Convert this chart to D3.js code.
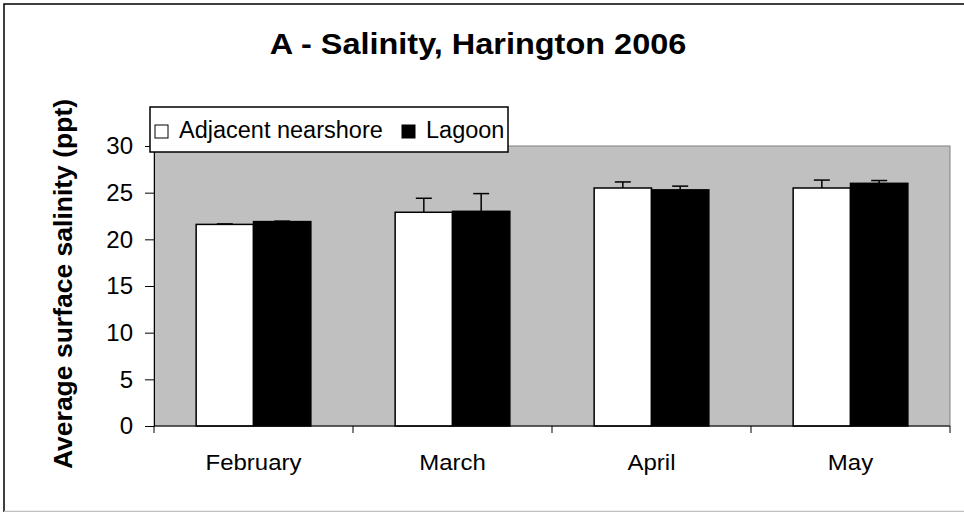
<!DOCTYPE html>
<html>
<head>
<meta charset="utf-8">
<script src="https://cdn.jsdelivr.net/npm/d3@7"></script>
<style>
body { margin: 0; background: #fff; }
svg { display: block; font-family: "Liberation Sans", Arial, sans-serif; }
</style>
</head>
<body>
<div id="vis"></div>
<script>
var months = ["February", "March", "April", "May"];
var seriesNames = ["Adjacent nearshore", "Lagoon"];
var nearshore = [21.6, 22.9, 25.5, 25.5];
var lagoon = [21.9, 23.0, 25.3, 26.0];
var nearshoreErr = [0.05, 1.5, 0.65, 0.85];
var lagoonErr = [0.05, 1.9, 0.4, 0.3];
var yTicks = [0, 5, 10, 15, 20, 25, 30];

var width = 964;
var height = 512;
var plot = { left: 154, right: 950, top: 146, bottom: 426 };
var fills = ["#ffffff", "#000000"];
var fontFamily = "Liberation Sans, Arial, sans-serif";

var svgElement = d3.select('#vis').append('svg')
    .attr('width', width)
    .attr('height', height);

// outer chart border (cut off at right/bottom like the picture)
svgElement.append('rect')
    .attr('x', 4).attr('y', 4)
    .attr('width', width + 10).attr('height', 520)
    .attr('fill', 'none').attr('stroke', '#000').attr('stroke-width', 1.5);
svgElement.append('line')
    .attr('x1', 4).attr('x2', width).attr('y1', 511.5).attr('y2', 511.5)
    .attr('stroke', '#c0c0c0').attr('stroke-width', 1.5);

var x = d3.scaleBand().domain(months).range([plot.left, plot.right]);
var xInner = d3.scaleBand().domain([0, 1]).range([0, x.bandwidth()]).paddingOuter(0.735);
var y = d3.scaleLinear().domain([0, 30]).range([plot.bottom, plot.top]);

// plot area
svgElement.append('rect')
    .attr('x', plot.left).attr('y', plot.top)
    .attr('width', plot.right - plot.left).attr('height', plot.bottom - plot.top)
    .attr('fill', '#c0c0c0').attr('stroke', '#808080').attr('stroke-width', 1);

var series = [
    { vals: nearshore, errs: nearshoreErr },
    { vals: lagoon, errs: lagoonErr }
];

series.forEach(function (s, si) {
    var g = svgElement.append('g');
    g.selectAll('rect').data(months).enter().append('rect')
        .attr('x', function (m) { return x(m) + xInner(si); })
        .attr('y', function (m, i) { return y(s.vals[i]); })
        .attr('width', xInner.bandwidth())
        .attr('height', function (m, i) { return y(0) - y(s.vals[i]); })
        .attr('fill', fills[si])
        .attr('stroke', '#000').attr('stroke-width', 1.5);
});

// error bars (plus direction only)
series.forEach(function (s, si) {
    var g = svgElement.append('g').attr('stroke', '#000').attr('stroke-width', 1.5);
    months.forEach(function (m, i) {
        var cx = x(m) + xInner(si) + xInner.bandwidth() / 2;
        g.append('line')
            .attr('x1', cx).attr('x2', cx)
            .attr('y1', y(s.vals[i])).attr('y2', y(s.vals[i] + s.errs[i]));
        g.append('line')
            .attr('x1', cx - 8).attr('x2', cx + 8)
            .attr('y1', y(s.vals[i] + s.errs[i])).attr('y2', y(s.vals[i] + s.errs[i]));
    });
});

// y axis
var yAxis = d3.axisLeft(y).tickValues(yTicks).tickSize(9).tickSizeOuter(0).tickPadding(12);
var yg = svgElement.append('g')
    .attr('transform', 'translate(' + plot.left + ',0)')
    .call(yAxis);
yg.selectAll('text').attr('font-size', 24).attr('fill', '#000').attr('font-family', fontFamily);
yg.selectAll('line, path').attr('stroke', '#000');

// x axis with ticks between categories
var xg = svgElement.append('g').attr('transform', 'translate(0,' + plot.bottom + ')');
xg.append('line')
    .attr('x1', plot.left).attr('x2', plot.right).attr('y1', 0).attr('y2', 0)
    .attr('stroke', '#000');
xg.selectAll('line.tick').data(months.concat(['end'])).enter().append('line')
    .attr('class', 'tick')
    .attr('x1', function (m, i) { return plot.left + i * x.step(); })
    .attr('x2', function (m, i) { return plot.left + i * x.step(); })
    .attr('y1', 0).attr('y2', 7)
    .attr('stroke', '#000');
xg.selectAll('text').data(months).enter().append('text')
    .attr('transform', function (m) {
        return 'translate(' + (x(m) + x.bandwidth() / 2) + ',43.5) scale(1.09,1)';
    })
    .attr('text-anchor', 'middle')
    .attr('font-size', 22)
    .text(function (m) { return m; });

// title
svgElement.append('text')
    .attr('transform', 'translate(478,53.5) scale(1.12,1)')
    .attr('text-anchor', 'middle')
    .attr('font-size', 29).attr('font-weight', 'bold')
    .text('A - Salinity, Harington 2006');

// y axis title
svgElement.append('text')
    .attr('transform', 'translate(72,284) rotate(-90)')
    .attr('text-anchor', 'middle')
    .attr('font-size', 26.5).attr('font-weight', 'bold')
    .text('Average surface salinity (ppt)');

// legend
var legend = svgElement.append('g');
legend.append('rect')
    .attr('x', 150).attr('y', 107).attr('width', 358).attr('height', 45)
    .attr('fill', '#fff').attr('stroke', '#000').attr('stroke-width', 1.5);
var legendX = [155, 402];
seriesNames.forEach(function (name, i) {
    legend.append('rect')
        .attr('x', legendX[i]).attr('y', 125).attr('width', 13).attr('height', 13)
        .attr('fill', fills[i]).attr('stroke', '#000').attr('stroke-width', 1);
    legend.append('text')
        .attr('x', legendX[i] + 24).attr('y', 137.5)
        .attr('font-size', 23.5)
        .text(name);
});
</script>
</body>
</html>
